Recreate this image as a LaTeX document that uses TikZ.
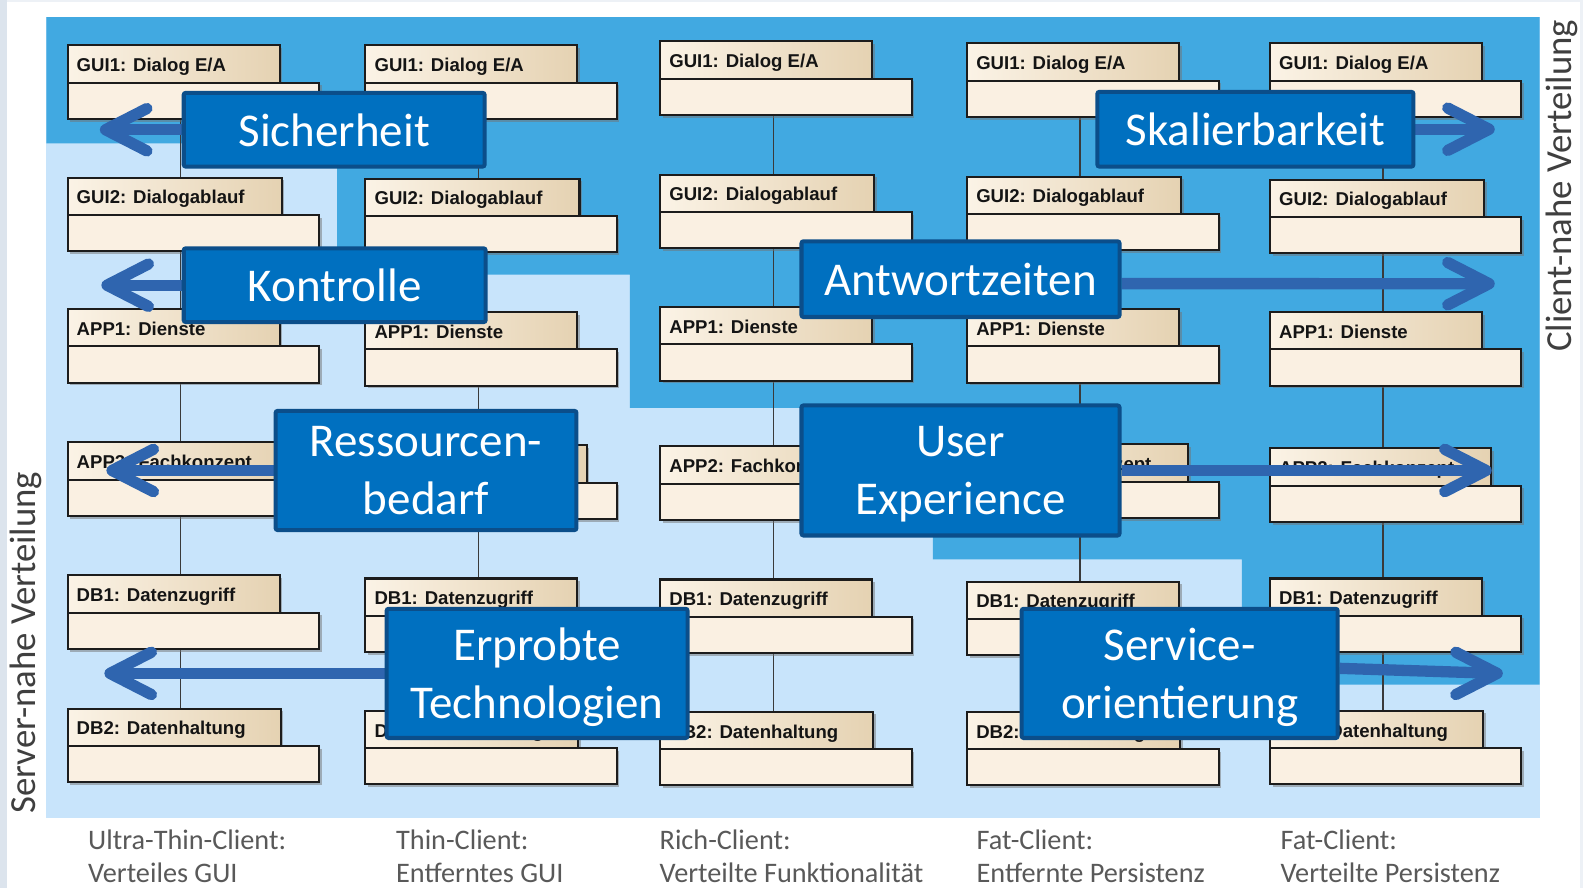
\documentclass[tikz,border=0pt]{standalone}
\usepackage{fontspec}
\setmainfont{Carlito}
\newfontfamily\umlfont{Liberation Sans}
\usetikzlibrary{shadows}

\definecolor{frameC}{HTML}{EDF1F6}
\definecolor{frameL}{HTML}{DCE4ED}
\definecolor{clientC}{HTML}{41A9E1}
\definecolor{serverC}{HTML}{C8E4FB}
\definecolor{hdrL}{HTML}{FBF3E6}
\definecolor{hdrR}{HTML}{E5D2B2}
\definecolor{bodyC}{HTML}{FAF0E2}
\definecolor{umlLine}{HTML}{1C1C1C}
\definecolor{connC}{HTML}{3A3A3A}
\definecolor{tagFill}{HTML}{0070C0}
\definecolor{tagLine}{HTML}{0B4E8A}
\definecolor{arrowC}{HTML}{2F65AF}
\definecolor{capC}{HTML}{595959}
\definecolor{sideC}{HTML}{3F3F3F}

\pgfdeclarelayer{regions}
\pgfdeclarelayer{links}
\pgfdeclarelayer{arrowlayer}
\pgfdeclarelayer{tags}
\pgfsetlayers{regions,links,main,arrowlayer,tags}

% header captions and header text widths per layer (row)
\newcommand\hdrtext[1]{\ifcase#1\or GUI1: Dialog E/A\or GUI2: Dialogablauf\or APP1: Dienste\or APP2: Fachkonzept\or DB1: Datenzugriff\or DB2: Datenhaltung\fi}
\newcommand\hdrwidth[1]{\ifcase#1\or 96\or 97\or 96\or 100.5\or 96\or 96.5\fi}

\tikzset{
  umlshadow/.style={drop shadow={shadow xshift=1.3pt, shadow yshift=-1.3pt, fill=black!55, opacity=0.5}},
  umlhead/.style={rectangle, draw=umlLine, line width=1pt, left color=hdrL, right color=hdrR,
    anchor=north west, minimum height=18.5pt, inner xsep=4.5pt, inner ysep=0pt,
    text height=8.5pt, text depth=1pt, text=black!92,
    font=\umlfont\bfseries\fontsize{9.2}{10}\selectfont, umlshadow},
  umlbody/.style={rectangle, draw=umlLine, line width=1pt, fill=bodyC, anchor=north west,
    minimum width=124.5pt, minimum height=18pt, inner sep=0pt, umlshadow},
  link/.style={draw=connC, line width=0.75pt},
  tag/.style={rectangle, draw=tagLine, line width=2pt, fill=tagFill, rounded corners=1pt,
    text=white, align=center, inner sep=0pt, text depth=0pt,
    font=\fontsize{23.3}{28.5}\selectfont},
  arrowbody/.style={draw=arrowC, line width=5.6pt},
  arrowhead/.style={draw=arrowC, line width=5.6pt, line cap=round, line join=round},
  bottomcap/.style={anchor=base west, inner sep=0pt, text=capC, font=\fontsize{14}{16}\selectfont},
  sidecap/.style={anchor=base, rotate=90, inner sep=0pt, text=sideC, font=\fontsize{18.2}{20}\selectfont},
}

\begin{document}
\begin{tikzpicture}[x=0.5pt, y=-0.5pt]
\useasboundingbox (0,0) rectangle (1568,880);

% frame and the two distribution zones
\begin{pgfonlayer}{regions}
  \fill[frameC] (0,0) rectangle (1568,880);
  \fill[frameL] (0,0) rectangle (7,880);
  \fill[white] (7,2) rectangle (1565,880);
  \fill[serverC] (46,17) rectangle (1525,810);
  \fill[clientC] (46,17) -- (1525,17) -- (1525,678) -- (1230,678) -- (1230,554)
     -- (924,554) -- (924,404) -- (624,404) -- (624,272) -- (334,272) -- (334,142)
     -- (46,142) -- cycle;
\end{pgfonlayer}

% component stacks, one column per client type
\foreach \c/\x/\ys in {1/66/{44,175,305,437,569,701},
                       2/361/{44,176,308,440,572,703},
                       3/653/{40,172,303,441,573,704},
                       4/957/{42,174,305,439,575,704},
                       5/1257/{42,177,308,443,572,703}}{
  \foreach \y [count=\r] in \ys {
    \edef\hw{\hdrwidth{\r}}
    \node[umlhead] (h\c\r) at (\x,\y) {\makebox[\hw pt][l]{\hdrtext{\r}}};
    \node[umlbody] (b\c\r) at (\x,\y+37) {};
  }
}

% links between consecutive components
\begin{pgfonlayer}{links}
  \foreach \c in {1,...,5}{
    \foreach \r [evaluate=\r as \n using int(\r+1)] in {1,...,5}{
      \draw[link] ([xshift=56.5pt]b\c\r.south west) coordinate (lk) -- (lk |- h\c\n.north);
    }
  }
\end{pgfonlayer}

% quality attributes
\begin{pgfonlayer}{tags}
  \node[tag, minimum width=149pt,   minimum height=36.5pt] (sich) at (331,128.5)   {Sicherheit};
  \node[tag, minimum width=149.5pt, minimum height=36.5pt] (kont) at (331.5,282.5) {Kontrolle};
  \node[tag, minimum width=149pt,   minimum height=59pt]   (ress) at (422,466)     {Ressourcen-\\bedarf};
  \node[tag, minimum width=149pt,   minimum height=64pt]   (erpr) at (532,667)     {Erprobte\\Technologien};
  \node[tag, minimum width=157.5pt, minimum height=37.5pt] (antw) at (951.4,276.5) {Antwortzeiten};
  \node[tag, minimum width=157.5pt, minimum height=64.4pt] (user) at (951.4,466)   {User\\Experience};
  \node[tag, minimum width=156.5pt, minimum height=37pt]   (skal) at (1243.5,128)  {Skalierbarkeit};
  \node[tag, minimum width=156.5pt, minimum height=64pt]   (serv) at (1168.5,667)  {Service-\\orientierung};
\end{pgfonlayer}

% arrows towards server side (left) and client side (right)
\begin{pgfonlayer}{arrowlayer}
  \coordinate (tSich) at (104.5,128.5);
  \coordinate (tKont) at (106,282.5);
  \coordinate (tRess) at (111,466);
  \coordinate (tErpr) at (109,667);
  \coordinate (tAntw) at (1475,281);
  \coordinate (tUser) at (1472,466);
  \coordinate (tSkal) at (1475,128);
  \coordinate (tServ) at (1483,667);

  \draw[arrowbody] (sich.west) -- (tSich);
  \draw[arrowbody] (kont.west) -- (tKont);
  \draw[arrowbody] (ress.west) -- (tRess);
  \draw[arrowbody] (erpr.west) -- (tErpr);
  \draw[arrowbody] ([yshift=-2.2pt]antw.east) -- (tAntw);
  \draw[arrowbody] (user.east) -- (tUser);
  \draw[arrowbody] (skal.east) -- (tSkal);
  \draw[arrowbody] ([yshift=2.5pt]serv.east) -- (tServ);

  \foreach \t in {tSich,tKont,tRess,tErpr}
    \draw[arrowhead] ([shift={(41,-21)}]\t) -- (\t) -- ([shift={(41,21)}]\t);
  \foreach \t in {tAntw,tUser,tSkal,tServ}
    \draw[arrowhead] ([shift={(-41,-21)}]\t) -- (\t) -- ([shift={(-41,21)}]\t);
\end{pgfonlayer}

% axis captions
\node[sidecap] (client) at (1556.5,184) {Client-nahe Verteilung};
\node[sidecap] (server) at (34.7,636.5) {Server-nahe Verteilung};

% client type captions
\node[bottomcap] (k1a) at (87,841)    {Ultra-Thin-Client:};
\node[bottomcap] (k1b) at (87,874.5)  {Verteiles GUI};
\node[bottomcap] (k2a) at (392,841)   {Thin-Client:};
\node[bottomcap] (k2b) at (392,874.5) {Entferntes GUI};
\node[bottomcap] (k3a) at (653,841)   {Rich-Client:};
\node[bottomcap] (k3b) at (653,874.5) {Verteilte Funktionalität};
\node[bottomcap] (k4a) at (967,841)   {Fat-Client:};
\node[bottomcap] (k4b) at (967,874.5) {Entfernte Persistenz};
\node[bottomcap] (k5a) at (1268,841)  {Fat-Client:};
\node[bottomcap] (k5b) at (1268,874.5){Verteilte Persistenz};
\end{tikzpicture}
\end{document}
